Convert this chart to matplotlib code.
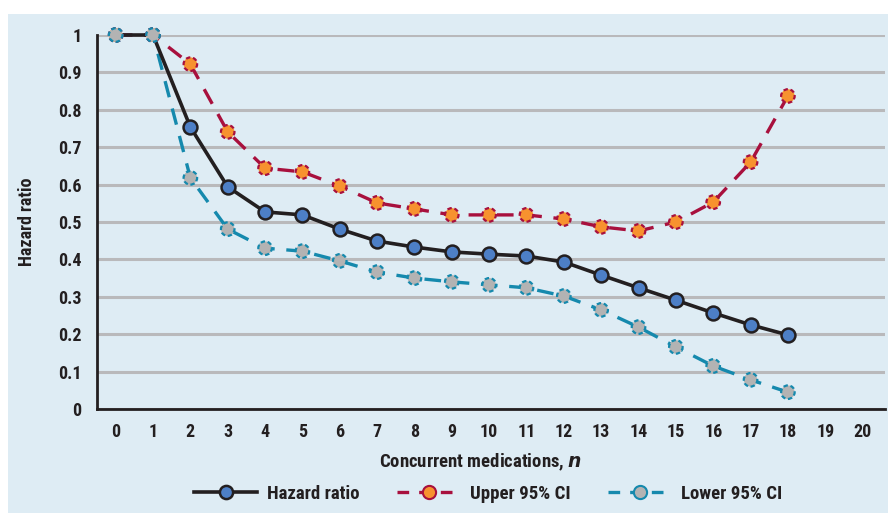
import numpy as np
import matplotlib.pyplot as plt
from matplotlib.patches import Rectangle
from matplotlib.lines import Line2D

plt.rcParams['font.family'] = ['Roboto Condensed', 'Liberation Sans Narrow', 'Roboto', 'DejaVu Sans']
plt.rcParams['font.weight'] = 'bold'

n = np.arange(19)
hazard = [1, 1, 0.754, 0.594, 0.527, 0.519, 0.481, 0.449, 0.433, 0.420,
          0.414, 0.409, 0.393, 0.358, 0.324, 0.291, 0.257, 0.225, 0.198]
upper = [1, 1, 0.922, 0.741, 0.644, 0.634, 0.596, 0.551, 0.535, 0.519,
         0.519, 0.519, 0.508, 0.487, 0.476, 0.500, 0.553, 0.660, 0.837]
lower = [1, 1, 0.618, 0.481, 0.430, 0.422, 0.396, 0.366, 0.350, 0.340,
         0.332, 0.324, 0.302, 0.265, 0.219, 0.166, 0.115, 0.078, 0.045]
xticks = list(range(21))
yticks = [0, 0.1, 0.2, 0.3, 0.4, 0.5, 0.6, 0.7, 0.8, 0.9, 1]
ytick_labels = ['0', '0.1', '0.2', '0.3', '0.4', '0.5', '0.6', '0.7', '0.8', '0.9', '1']

bg = '#deecf4'
dark = '#231f20'
blue = '#4d7fc6'
crimson = '#a8103d'
orange = '#f7922f'
teal = '#1589ad'
gray = '#b3b3b3'

fig = plt.figure(figsize=(8.88, 5.13), dpi=100)
fig.patches.append(Rectangle((8 / 888, 0), 1, 1 - 14 / 513, transform=fig.transFigure,
                             facecolor=bg, edgecolor='none', zorder=-10))

ax = fig.add_axes([97 / 888, 1 - 409 / 513, (885 - 97) / 888, (409 - 35) / 513])
ax.set_facecolor('none')
ax.set_xlim(-0.5, 20.6)
ax.set_ylim(0, 1)

ax.set_yticks(yticks)
ax.set_yticklabels(ytick_labels, fontweight='bold')
ax.set_xticks(xticks)
ax.set_xticklabels([str(t) for t in xticks], fontweight='bold')
ax.yaxis.grid(True, color='#b9b9bb', linewidth=2.2)
ax.set_axisbelow(True)
for s in ['top', 'right']:
    ax.spines[s].set_visible(False)
for s in ['left', 'bottom']:
    ax.spines[s].set_color(dark)
    ax.spines[s].set_linewidth(2)
ax.tick_params(axis='both', length=0, labelsize=13, colors=dark)
ax.tick_params(axis='y', pad=11)
ax.tick_params(axis='x', pad=10)

# lines
ax.plot(n, lower, color=teal, lw=2.4, ls=(0, (5, 3.5)), zorder=3, clip_on=False)
ax.plot(n, upper, color=crimson, lw=2.4, ls=(0, (5, 3.5)), zorder=3, clip_on=False)
ax.plot(n, hazard, color=dark, lw=2.6, zorder=4, clip_on=False)

ax.scatter(n, lower, s=95, facecolor=gray, edgecolor=teal, linewidths=1.6,
           linestyles=(0, (2, 1.2)), zorder=5, clip_on=False)
ax.scatter(n, upper, s=95, facecolor=orange, edgecolor=crimson, linewidths=1.6,
           linestyles=(0, (2, 1.2)), zorder=5, clip_on=False)
ax.scatter(n[2:], hazard[2:], s=100, facecolor=blue, edgecolor=dark, linewidths=1.8,
           zorder=6, clip_on=False)
# first two hazard points sit under the CI markers
ax.scatter(n[:2], lower[:2], s=95, facecolor=gray, edgecolor=teal, linewidths=1.6,
           linestyles=(0, (2, 1.2)), zorder=7, clip_on=False)

ax.set_ylabel('Hazard ratio', fontsize=13, fontweight='bold', color=dark)
ax.yaxis.set_label_coords(-(97 - 36) / (885 - 97), 0.5)
ax.set_xlabel('Concurrent medications, $\\bf{\\it{n}}$', fontsize=13.5, fontweight='bold',
              color=dark)
ax.xaxis.set_label_coords((480 - 97) / (885 - 97), -0.115)

handles = [
    Line2D([], [], color=dark, lw=2.6, marker='o', markersize=9.5, markerfacecolor=blue,
           markeredgecolor=dark, markeredgewidth=1.8),
    Line2D([], [], color=crimson, lw=2.4, ls=(0, (3.5, 3)), marker='o', markersize=9.5,
           markerfacecolor=orange, markeredgecolor=crimson, markeredgewidth=1.5),
    Line2D([], [], color=teal, lw=2.4, ls=(0, (3.5, 3)), marker='o', markersize=9.5,
           markerfacecolor=gray, markeredgecolor=teal, markeredgewidth=1.5),
]
leg = fig.legend(handles, ['Hazard ratio', 'Upper 95% CI', 'Lower 95% CI'], loc='center',
                 bbox_to_anchor=(488 / 888, 1 - 494 / 513), ncol=3, frameon=False,
                 fontsize=13.5, handlelength=3.4, columnspacing=2.0, handletextpad=0.5,
                 labelcolor=dark)
for t in leg.get_texts():
    t.set_fontweight('bold')

fig.savefig('out.png', dpi=100, facecolor='white')
